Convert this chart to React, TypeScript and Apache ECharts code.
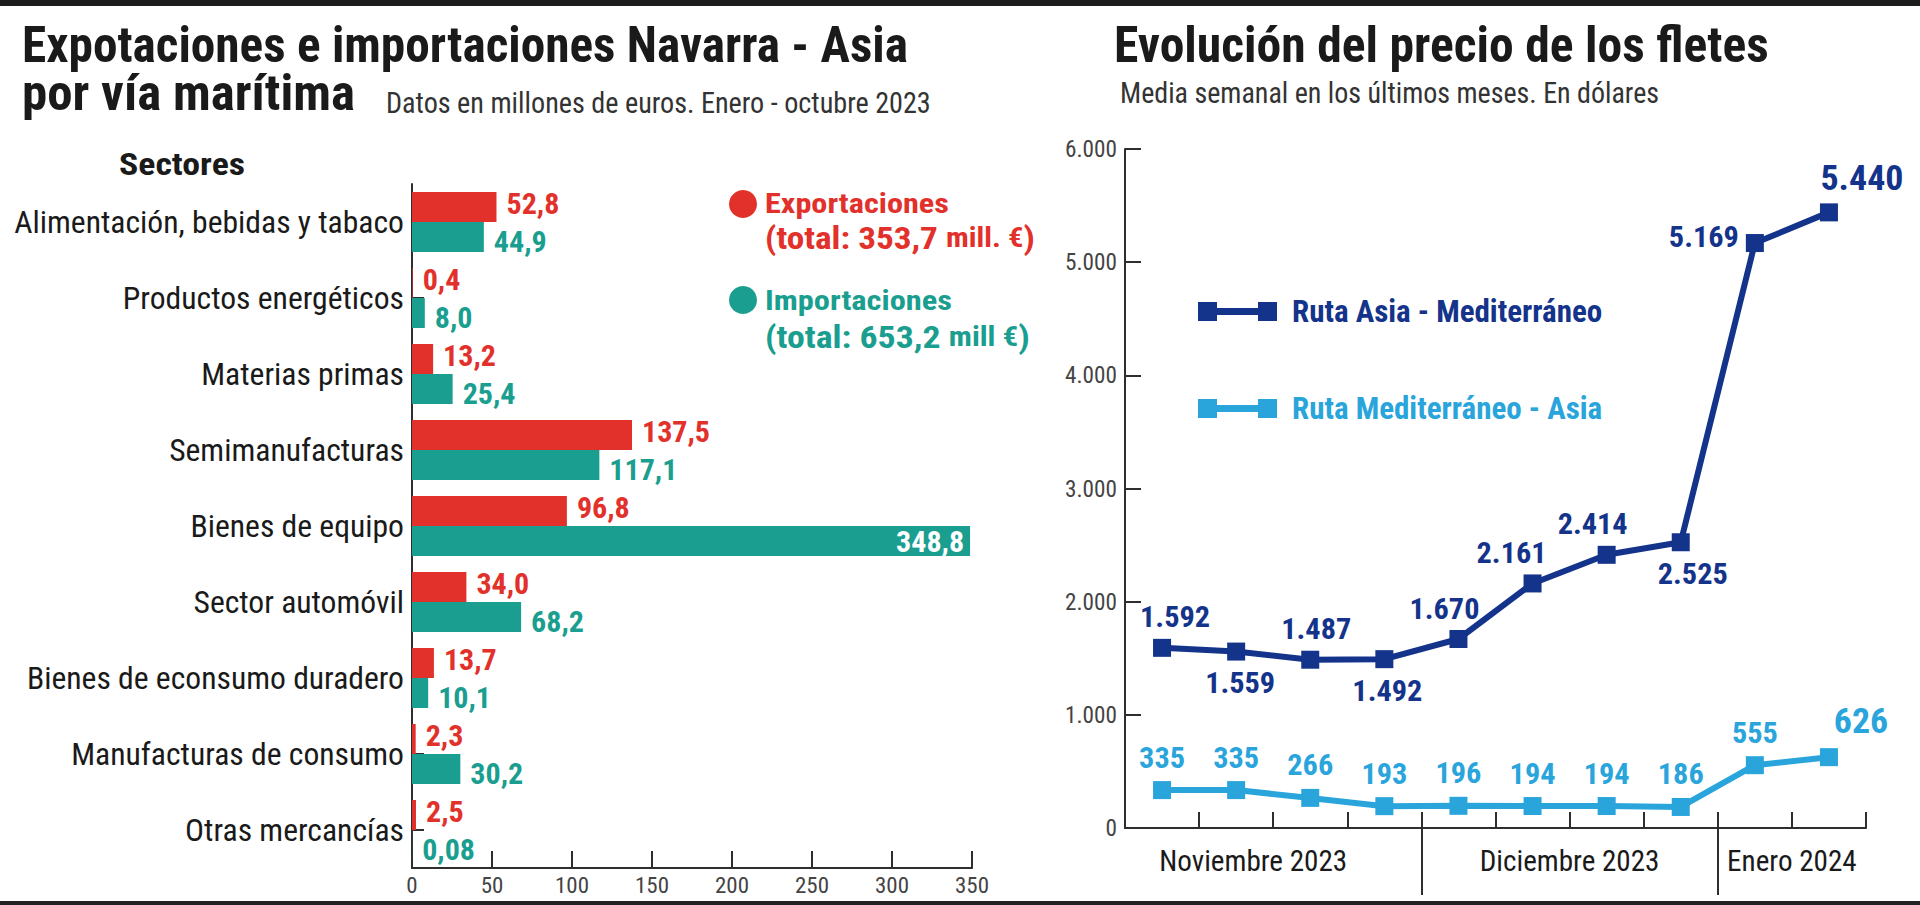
import React, { useEffect, useRef } from "react";
import * as echarts from "echarts";

// ---------- Data ----------
const sectors = [
  "Alimentación, bebidas y tabaco",
  "Productos energéticos",
  "Materias primas",
  "Semimanufacturas",
  "Bienes de equipo",
  "Sector automóvil",
  "Bienes de econsumo duradero",
  "Manufacturas de consumo",
  "Otras mercancías",
];
const exportaciones = [52.8, 0.4, 13.2, 137.5, 96.8, 34.0, 13.7, 2.3, 2.5];
const importaciones = [44.9, 8.0, 25.4, 117.1, 348.8, 68.2, 10.1, 30.2, 0.08];
const barAxisMin = 0;
const barAxisMax = 350;
const barAxisStep = 50;

const weeks = [
  "Nov S1", "Nov S2", "Nov S3", "Nov S4",
  "Dic S1", "Dic S2", "Dic S3", "Dic S4",
  "Ene S1", "Ene S2",
];
const asiaMed = [1592, 1559, 1487, 1492, 1670, 2161, 2414, 2525, 5169, 5440];
const medAsia = [335, 335, 266, 193, 196, 194, 194, 186, 555, 626];
const months = ["Noviembre 2023", "Diciembre 2023", "Enero 2024"];
const monthWeeks = [4, 4, 2];
const lineAxisMax = 6000;
const lineAxisStep = 1000;

// ---------- Styles ----------
const FONT_CANDIDATES = [
  "Liberation Sans Narrow",
  "Roboto Condensed",
  "Noto Sans Condensed",
  "Open Sans Condensed",
  "Noto Sans SemiCondensed",
  "DejaVu Sans Condensed",
];
const RED = "#e2302b";
const TEAL = "#1a9e8f";
const DARK = "#14338a";
const LIGHT = "#2aa5dc";
const AXIS = "#2e2e2e";
const INK = "#1a1a1a";

const darkLabelPos = ["top", "bottom", "top", "bottom", "top", "top", "top", "bottom", "left", "top"];
const darkLabelOff = [[13, 0], [4, 0], [6, 0], [3, 0], [-14, 0], [-21, 0], [-14, 0], [12, 0], [0, -7], [33, 0]];
const lightLabelOff = [[0, 0], [0, 0], [0, 0], [0, 0], [0, 0], [0, 0], [0, 0], [0, 0], [0, 0], [32, 0]];
const bigLabelIndex = 9;
const monthLabelShift = [-0.27, 0, 0];

const fmtComma = (v: number) =>
  Number.isInteger(v) ? `${v},0` : String(v).replace(".", ",");
const fmtThousands = (v: number) =>
  v >= 1000 ? `${Math.floor(v / 1000)}.${String(v % 1000).padStart(3, "0")}` : String(v);

export default function App() {
  const ref = useRef<HTMLDivElement>(null);

  useEffect(() => {
    if (!ref.current) return;

    // ---- font helpers (measure with a canvas) ----
    const ctx = document.createElement("canvas").getContext("2d") as CanvasRenderingContext2D;
    const widthOf = (t: string, weight: string, size: number, family: string) => {
      ctx.font = `${weight} ${size}px ${family}`;
      return ctx.measureText(t).width;
    };
    const probe = "Alimentación 0123456789 Mediterráneo";
    let fam = "'DejaVu Sans Condensed'";
    for (const c of FONT_CANDIDATES) {
      const a = widthOf(probe, "normal", 40, `'${c}', monospace`);
      const b = widthOf(probe, "normal", 40, "monospace");
      if (Math.abs(a - b) > 0.5) {
        fam = `'${c}'`;
        break;
      }
    }
    const FONT = `${fam}, sans-serif`;
    const fitSize = (t: string, weight: string, target: number, maxSize: number) =>
      Math.min(maxSize, (100 * target) / widthOf(t, weight, 100, FONT));

    const catSize = fitSize("Alimentación, bebidas y tabaco", "normal", 390, 34);
    const barValSize = fitSize("52,8", "bold", 55, 30);
    const xTickSize = fitSize("350", "normal", 34, 27);
    const yTickSize = fitSize("6.000", "normal", 52, 27);
    const monthSize = fitSize("Noviembre 2023", "normal", 188, 32);
    const lineLblSize = fitSize("1.487", "bold", 70, 33);
    const lineBigSize = fitSize("5.440", "bold", 83, 40);
    const legendRSize = fitSize("Ruta Asia - Mediterráneo", "bold", 315, 31);

    const chart = echarts.init(ref.current, null, { renderer: "svg" });

    // month boundaries and label centres (in week units)
    const bounds: number[] = [];
    const centers: number[] = [];
    let acc = 0;
    monthWeeks.forEach((w, i) => {
      centers.push(acc + w / 2 + monthLabelShift[i]);
      acc += w;
      if (i < monthWeeks.length - 1) bounds.push(acc);
    });

    // text fitted horizontally to a target width (condensed look)
    const text = (
      t: string, x: number, y: number, size: number, weight: string, fill: string, target: number
    ) => {
      const sx = target / widthOf(t, weight, size, FONT);
      return {
        type: "text",
        x,
        y,
        scaleX: sx,
        silent: true,
        style: {
          text: t,
          fill,
          font: `${weight} ${size}px ${FONT}`,
          align: "left",
          verticalAlign: "middle",
        },
      };
    };
    const richTotal = (
      pre: string, unit: string, x: number, y: number, fill: string, target: number
    ) => {
      const w =
        widthOf(pre, "bold", 31, FONT) + widthOf(unit, "bold", 27, FONT) + widthOf(")", "bold", 31, FONT);
      return {
        type: "text",
        x,
        y,
        scaleX: target / w,
        silent: true,
        style: {
          text: `{a|${pre}}{b|${unit}}{a|)}`,
          verticalAlign: "middle",
          rich: {
            a: { font: `bold 31px ${FONT}`, fill },
            b: { font: `bold 27px ${FONT}`, fill },
          },
        },
      };
    };

    const barLabel = (color: string, dy: number) => ({
      show: true,
      position: "right",
      distance: 10,
      offset: [0, dy],
      fontFamily: FONT,
      fontWeight: "bold",
      fontSize: barValSize,
      lineHeight: 26,
      color,
      formatter: (p: any) => fmtComma(p.value),
    });

    const option: any = {
      animation: false,
      backgroundColor: "#ffffff",
      textStyle: { fontFamily: FONT },
      grid: [
        { left: 412, top: 184, width: 560, height: 684, containLabel: false },
        { left: 1125, top: 149, width: 741, height: 679, containLabel: false },
      ],
      xAxis: [
        {
          type: "value",
          gridIndex: 0,
          min: barAxisMin,
          max: barAxisMax,
          interval: barAxisStep,
          axisLine: { show: true, lineStyle: { color: AXIS, width: 2 } },
          axisTick: { show: true, inside: true, length: 17, lineStyle: { color: AXIS, width: 2 } },
          axisLabel: { fontFamily: FONT, fontSize: xTickSize, color: "#444", margin: 6 },
          splitLine: { show: false },
        },
        {
          type: "category",
          gridIndex: 1,
          data: weeks,
          boundaryGap: true,
          axisLine: { show: true, lineStyle: { color: AXIS, width: 2 } },
          axisTick: { show: true, inside: true, length: 16, interval: 0, lineStyle: { color: AXIS, width: 2 } },
          axisLabel: { show: false },
          splitLine: { show: false },
        },
        {
          type: "value",
          gridIndex: 1,
          min: 0,
          max: weeks.length,
          position: "bottom",
          offset: -16,
          axisLine: { show: false },
          axisTick: {
            show: true,
            customValues: bounds,
            length: 83,
            lineStyle: { color: AXIS, width: 2 },
          },
          axisLabel: {
            show: true,
            customValues: centers,
            margin: 34,
            fontFamily: FONT,
            fontSize: monthSize,
            color: INK,
            formatter: (v: number) => {
              const i = centers.findIndex((c) => Math.abs(c - v) < 1e-6);
              return i >= 0 ? months[i] : "";
            },
          },
          splitLine: { show: false },
        },
      ],
      yAxis: [
        {
          type: "category",
          gridIndex: 0,
          data: sectors,
          inverse: true,
          axisLine: { show: true, lineStyle: { color: AXIS, width: 2 } },
          axisTick: { show: true, inside: true, alignWithLabel: true, length: 12, lineStyle: { color: AXIS, width: 2 } },
          axisLabel: { fontFamily: FONT, fontSize: catSize, color: INK, margin: 8 },
        },
        {
          type: "value",
          gridIndex: 1,
          min: 0,
          max: lineAxisMax,
          interval: lineAxisStep,
          axisLine: { show: true, lineStyle: { color: AXIS, width: 2 } },
          axisTick: { show: true, inside: true, length: 16, lineStyle: { color: AXIS, width: 2 } },
          axisLabel: {
            fontFamily: FONT,
            fontSize: yTickSize,
            color: "#444",
            margin: 8,
            formatter: (v: number) => fmtThousands(v),
          },
          splitLine: { show: false },
        },
      ],
      legend: {
        orient: "vertical",
        left: 1193,
        top: 291,
        itemWidth: 79,
        itemHeight: 19,
        itemGap: 66,
        selectedMode: false,
        icon: "path://M0,0H19V19H0Z M19,6H60V13H19Z M60,0H79V19H60Z",
        data: [
          { name: "Ruta Asia - Mediterráneo", textStyle: { color: DARK } },
          { name: "Ruta Mediterráneo - Asia", textStyle: { color: LIGHT } },
        ],
        textStyle: {
          fontFamily: FONT,
          fontWeight: "bold",
          fontSize: legendRSize,
          lineHeight: 30,
          padding: [0, 0, 0, 10],
        },
      },
      series: [
        {
          name: "Exportaciones",
          type: "bar",
          xAxisIndex: 0,
          yAxisIndex: 0,
          barWidth: 30,
          barGap: "0%",
          itemStyle: { color: RED },
          label: barLabel(RED, -4),
          data: exportaciones,
        },
        {
          name: "Importaciones",
          type: "bar",
          xAxisIndex: 0,
          yAxisIndex: 0,
          barWidth: 30,
          barGap: "0%",
          itemStyle: { color: TEAL },
          label: barLabel(TEAL, 4),
          data: importaciones.map((v) =>
            v > 300
              ? { value: v, label: { position: "insideRight", color: "#ffffff", distance: 6, offset: [0, 0] } }
              : v
          ),
        },
        {
          name: "Ruta Asia - Mediterráneo",
          type: "line",
          xAxisIndex: 1,
          yAxisIndex: 1,
          symbol: "rect",
          symbolSize: 18,
          lineStyle: { color: DARK, width: 6 },
          itemStyle: { color: DARK },
          label: {
            show: true,
            fontFamily: FONT,
            fontWeight: "bold",
            fontSize: lineLblSize,
            color: DARK,
            distance: 7,
            formatter: (p: any) => fmtThousands(p.value),
          },
          data: asiaMed.map((v, i) => ({
            value: v,
            label: {
              position: darkLabelPos[i],
              offset: darkLabelOff[i],
              fontSize: i === bigLabelIndex ? lineBigSize : lineLblSize,
            },
          })),
          z: 3,
        },
        {
          name: "Ruta Mediterráneo - Asia",
          type: "line",
          xAxisIndex: 1,
          yAxisIndex: 1,
          symbol: "rect",
          symbolSize: 18,
          lineStyle: { color: LIGHT, width: 6 },
          itemStyle: { color: LIGHT },
          label: {
            show: true,
            position: "top",
            fontFamily: FONT,
            fontWeight: "bold",
            fontSize: lineLblSize,
            color: LIGHT,
            distance: 9,
            formatter: (p: any) => fmtThousands(p.value),
          },
          data: medAsia.map((v, i) => ({
            value: v,
            label: {
              offset: lightLabelOff[i],
              fontSize: i === bigLabelIndex ? lineBigSize : lineLblSize,
            },
          })),
          z: 3,
        },
      ],
      graphic: [
        { type: "rect", silent: true, shape: { x: 0, y: 0, width: 1920, height: 6 }, style: { fill: "#1c1c1c" } },
        { type: "rect", silent: true, shape: { x: 0, y: 901, width: 1920, height: 4 }, style: { fill: "#222222" } },
        text("Expotaciones e importaciones Navarra - Asia", 22, 45, 50, "bold", INK, 886),
        text("por vía marítima", 22, 93, 50, "bold", INK, 333),
        text("Datos en millones de euros. Enero - octubre 2023", 386, 103, 29, "normal", "#333", 545),
        text("Evolución del precio de los fletes", 1114, 45, 50, "bold", INK, 655),
        text("Media semanal en los últimos meses. En dólares", 1120, 93, 29, "normal", "#333", 539),
        text("Sectores", 119, 164, 31, "bold", INK, 126),
        { type: "circle", silent: true, shape: { cx: 743, cy: 204, r: 14 }, style: { fill: RED } },
        text("Exportaciones", 765, 203, 28, "bold", RED, 184),
        richTotal("(total: 353,7 ", "mill. €", 765, 238, RED, 270),
        { type: "circle", silent: true, shape: { cx: 743, cy: 300, r: 14 }, style: { fill: TEAL } },
        text("Importaciones", 765, 300, 28, "bold", TEAL, 187),
        richTotal("(total: 653,2 ", "mill €", 765, 337, TEAL, 265),
      ],
    };

    chart.setOption(option);
    return () => chart.dispose();
  }, []);

  return (
    <div
      ref={ref}
      style={{ position: "fixed", left: 0, top: 0, width: 1920, height: 905, background: "#fff" }}
    />
  );
}
